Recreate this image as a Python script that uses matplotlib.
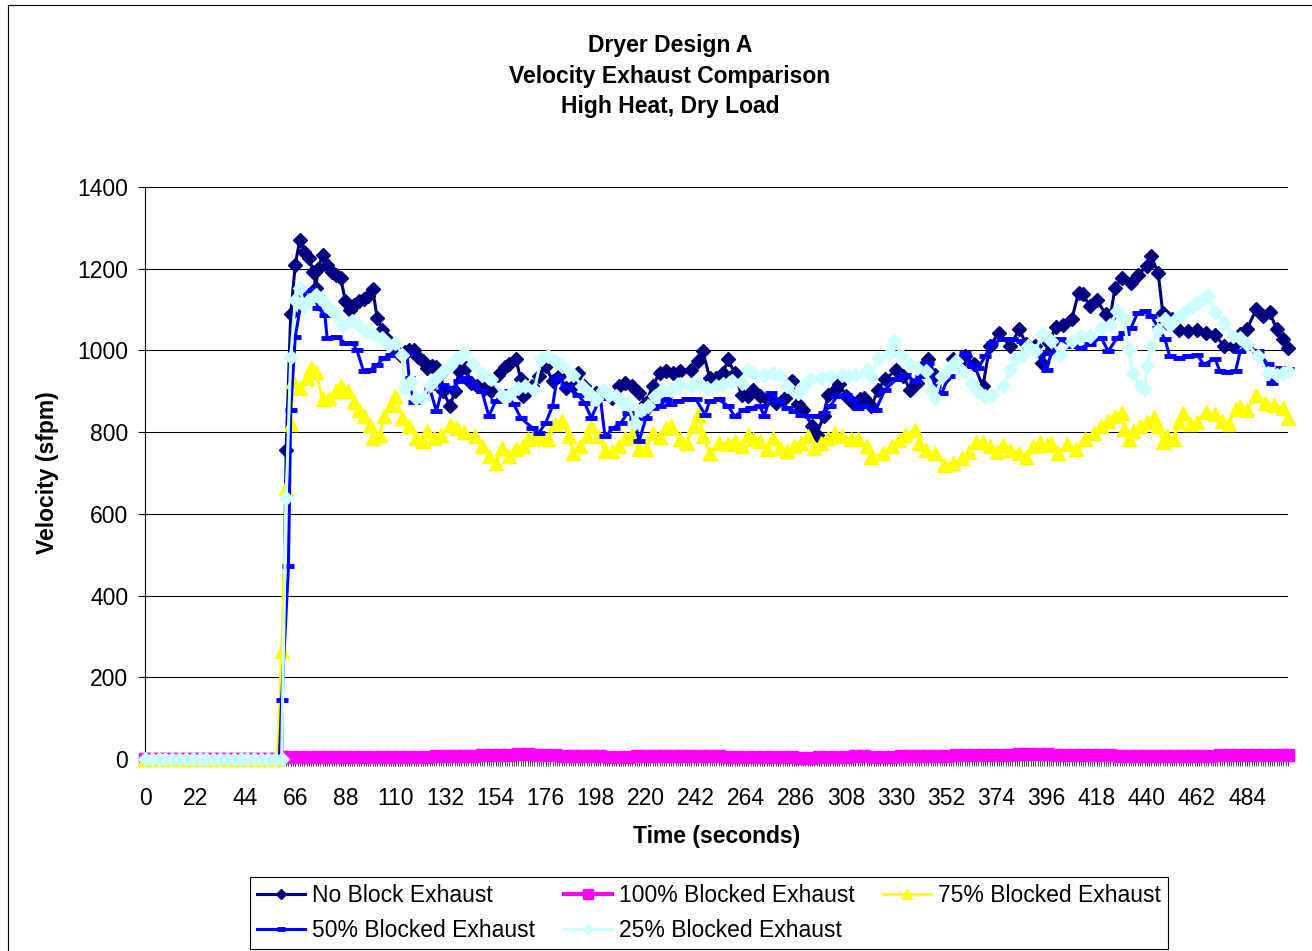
import matplotlib
matplotlib.use('Agg')
import matplotlib.pyplot as plt
from matplotlib.lines import Line2D

plt.rcParams['font.family'] = ['Liberation Sans', 'DejaVu Sans']

# ---------------- data (time in seconds, velocity in sfpm) ----------------
PRE_START = [(0, 0), (3, 0), (6, 0), (9, 0), (12, 0), (15, 0), (18, 0), (21, 0), (24, 0),
             (27, 0), (30, 0), (33, 0), (36, 0), (39, 0), (42, 0), (45, 0), (48, 0),
             (51, 0), (54, 0), (57, 0)]

NO_BLOCK = [(60, 0), (62, 757), (64, 1090), (66, 1210), (68, 1271), (70, 1240), (72, 1226),
            (74, 1193), (75, 1153), (76, 1200), (78, 1234), (80, 1210), (82, 1193), (84, 1185),
            (86, 1177), (88, 1120), (90, 1100), (92, 1112), (94, 1120), (96, 1125), (98, 1132),
            (100, 1150), (102, 1079), (104, 1050), (106, 1030), (108, 1014), (110, 1000),
            (112, 990), (114, 995), (116, 1000), (118, 1002), (120, 985), (122, 973), (124, 957),
            (126, 961), (128, 960), (130, 945), (131, 900), (134, 863), (136, 900), (138, 949),
            (141, 957), (143, 921), (146, 913), (149, 905), (152, 900), (155, 940), (158, 960),
            (160, 966), (163, 978), (165, 929), (166, 888), (168, 900), (170, 913), (173, 937),
            (176, 962), (179, 925), (182, 937), (185, 909), (188, 913), (190, 945), (193, 913),
            (198, 896), (201, 900), (205, 884), (208, 913), (211, 921), (214, 913), (217, 896),
            (220, 872), (223, 913), (226, 945), (229, 950), (232, 945), (235, 949), (240, 953),
            (243, 974), (245, 998), (248, 933), (251, 933), (254, 945), (256, 978), (259, 945),
            (262, 892), (265, 888), (267, 904), (270, 888), (273, 880), (277, 872), (281, 884),
            (284, 925), (287, 868), (289, 855), (293, 815), (295, 794), (298, 839), (300, 892),
            (303, 904), (305, 917), (308, 888), (311, 872), (314, 880), (316, 884), (319, 863),
            (322, 904), (325, 929), (330, 953), (333, 937), (336, 904), (339, 920), (341, 957),
            (344, 978), (347, 941), (352, 937), (355, 978), (358, 970), (360, 986), (364, 966),
            (368, 912), (371, 1011), (375, 1043), (380, 1011), (384, 1052), (387, 1015),
            (391, 1011), (394, 970), (397, 1019), (400, 1058), (403, 1063), (407, 1076),
            (410, 1141), (412, 1137), (415, 1108), (418, 1124), (422, 1088), (424, 1084),
            (426, 1153), (429, 1177), (433, 1165), (436, 1185), (440, 1206), (442, 1230),
            (445, 1189), (447, 1092), (448, 1067), (451, 1076), (454, 1051), (458, 1047),
            (462, 1050), (466, 1043), (470, 1037), (474, 1011), (478, 1011), (481, 1040),
            (484, 1052), (488, 1101), (491, 1084), (494, 1093), (497, 1052), (500, 1027),
            (502, 1007)]

BLOCKED_100 = [(60, 4), (64, 5), (68, 5), (72, 5), (76, 5), (80, 6), (84, 6), (88, 5), (92, 5),
               (96, 5), (100, 6), (104, 6), (108, 6), (112, 5), (116, 5), (120, 6), (124, 6),
               (128, 7), (132, 7), (136, 7), (140, 8), (144, 8), (148, 9), (152, 9), (156, 10),
               (160, 11), (164, 12), (168, 12), (172, 11), (176, 10), (180, 9), (184, 8),
               (188, 8), (192, 7), (196, 7), (200, 7), (204, 6), (208, 6), (212, 6), (216, 7),
               (220, 7), (224, 7), (228, 7), (232, 7), (236, 8), (240, 8), (244, 7), (248, 7),
               (252, 7), (256, 6), (260, 6), (264, 6), (268, 6), (272, 5), (276, 5), (280, 4),
               (284, 4), (288, 3), (292, 3), (296, 4), (300, 5), (304, 6), (308, 6), (312, 7),
               (316, 7), (320, 6), (324, 6), (328, 6), (332, 7), (336, 7), (340, 7), (344, 8),
               (348, 8), (352, 8), (356, 9), (360, 9), (364, 9), (368, 10), (372, 10), (376, 11),
               (380, 11), (384, 12), (388, 12), (392, 13), (396, 12), (400, 11), (404, 10),
               (408, 10), (412, 9), (416, 9), (420, 9), (424, 9), (428, 8), (432, 8), (436, 8),
               (440, 8), (444, 7), (448, 7), (452, 8), (456, 8), (460, 8), (464, 8), (468, 8),
               (472, 9), (476, 9), (480, 9), (484, 9), (488, 9), (492, 9), (496, 9), (500, 9),
               (502, 9)]

BLOCKED_75 = [(58, 0), (60, 264), (62, 663), (64, 820), (65, 924), (68, 908), (71, 933),
              (73, 957), (75, 947), (78, 880), (81, 884), (84, 900), (86, 912), (89, 900),
              (92, 875), (94, 855), (96, 839), (99, 818), (100, 786), (103, 794), (105, 839),
              (108, 867), (110, 888), (113, 835), (116, 814), (119, 786), (122, 778), (124, 802),
              (127, 786), (130, 794), (134, 818), (137, 810), (140, 800), (145, 790), (148, 766),
              (151, 741), (154, 725), (157, 762), (160, 741), (163, 758), (166, 766), (168, 782),
              (171, 790), (174, 786), (177, 782), (180, 819), (183, 827), (186, 790), (188, 749),
              (191, 766), (194, 790), (196, 815), (199, 790), (202, 753), (205, 753), (208, 766),
              (211, 786), (214, 794), (217, 758), (220, 758), (223, 798), (226, 788), (229, 811),
              (231, 815), (235, 782), (238, 774), (241, 815), (243, 843), (245, 790), (248, 749),
              (252, 774), (256, 770), (259, 778), (262, 766), (265, 794), (267, 782), (270, 778),
              (273, 758), (276, 786), (279, 762), (282, 753), (285, 766), (288, 774), (291, 790),
              (294, 762), (297, 774), (300, 786), (303, 798), (306, 790), (310, 782), (313, 784),
              (317, 765), (319, 740), (324, 748), (328, 765), (331, 781), (334, 793), (338, 806),
              (340, 773), (343, 757), (347, 748), (351, 720), (355, 724), (359, 736), (362, 752),
              (365, 777), (368, 777), (371, 765), (374, 752), (377, 769), (380, 757), (384, 748),
              (387, 740), (390, 765), (393, 777), (396, 769), (398, 774), (401, 750), (405, 771),
              (409, 759), (413, 783), (417, 799), (420, 815), (423, 828), (426, 840), (429, 848),
              (430, 808), (432, 783), (434, 803), (437, 815), (440, 824), (443, 836), (445, 815),
              (447, 775), (449, 791), (452, 783), (454, 824), (456, 848), (459, 820), (462, 826),
              (466, 850), (470, 845), (473, 828), (476, 821), (479, 856), (481, 862), (484, 853),
              (488, 892), (492, 871), (496, 867), (500, 859), (502, 834)]

BLOCKED_50 = [(59, 0), (60, 144), (63, 472), (64, 855), (66, 1034), (69, 1132), (72, 1149),
              (74, 1145), (76, 1104), (79, 1087), (80, 1030), (84, 1034), (88, 1018), (91, 1018),
              (93, 1002), (96, 949), (99, 953), (102, 965), (105, 982), (108, 990), (112, 994),
              (115, 994), (116, 933), (118, 875), (122, 884), (125, 908), (128, 851), (131, 916),
              (135, 908), (138, 924), (141, 933), (144, 917), (148, 900), (151, 839), (154, 876),
              (158, 900), (162, 868), (165, 835), (170, 811), (173, 798), (176, 823), (179, 864),
              (181, 933), (185, 913), (190, 892), (193, 872), (196, 835), (200, 884), (202, 790),
              (206, 811), (209, 823), (212, 847), (215, 831), (217, 778), (220, 835), (223, 860),
              (226, 865), (229, 880), (231, 868), (234, 876), (238, 880), (242, 880), (246, 843),
              (248, 876), (252, 880), (256, 864), (259, 839), (263, 855), (266, 860), (270, 864),
              (272, 839), (275, 896), (278, 876), (282, 860), (285, 851), (288, 843), (292, 839),
              (295, 839), (298, 847), (301, 864), (304, 888), (308, 892), (311, 880), (313, 860),
              (316, 863), (321, 855), (325, 904), (330, 929), (334, 941), (338, 925), (341, 937),
              (344, 970), (347, 912), (350, 896), (353, 937), (356, 974), (360, 994), (363, 961),
              (366, 957), (369, 986), (372, 1019), (377, 1027), (381, 1027), (385, 1023),
              (388, 1011), (392, 994), (396, 953), (398, 994), (402, 1027), (407, 1011),
              (411, 1007), (415, 1015), (420, 1031), (423, 998), (427, 1031), (430, 1043),
              (433, 1055), (436, 1092), (439, 1096), (442, 1084), (445, 1055), (448, 1027),
              (450, 986), (454, 982), (458, 986), (462, 990), (465, 966), (470, 980), (472, 950),
              (475, 946), (479, 950), (481, 998), (484, 1007), (489, 998), (493, 966), (495, 920),
              (499, 957), (502, 955)]

BLOCKED_25 = [(60, 0), (62, 640), (64, 985), (66, 1123), (68, 1153), (70, 1108), (72, 1124),
              (75, 1136), (78, 1120), (81, 1104), (84, 1087), (87, 1063), (91, 1071), (94, 1063),
              (97, 1047), (100, 1039), (104, 1030), (107, 1014), (110, 1018), (113, 990),
              (114, 908), (117, 924), (119, 884), (122, 884), (125, 916), (128, 933), (131, 949),
              (134, 961), (137, 981), (140, 994), (144, 966), (148, 945), (152, 929), (157, 892),
              (160, 892), (164, 909), (167, 913), (171, 904), (174, 978), (177, 986), (180, 974),
              (183, 962), (188, 941), (192, 913), (195, 896), (198, 880), (201, 904), (204, 892),
              (207, 888), (210, 872), (212, 868), (215, 823), (218, 855), (221, 864), (224, 888),
              (227, 902), (231, 904), (235, 917), (240, 913), (243, 921), (247, 909), (251, 913),
              (254, 917), (258, 925), (262, 921), (265, 953), (267, 945), (272, 941), (276, 945),
              (279, 941), (282, 913), (287, 896), (289, 913), (292, 929), (297, 933), (301, 937),
              (306, 941), (309, 937), (312, 940), (317, 953), (319, 937), (322, 982), (327, 994),
              (329, 1023), (332, 990), (336, 966), (339, 957), (343, 949), (345, 904), (347, 884),
              (350, 937), (353, 957), (356, 974), (359, 949), (363, 920), (366, 900), (369, 888),
              (372, 892), (377, 912), (380, 953), (382, 978), (385, 986), (388, 1011), (391, 998),
              (394, 1039), (398, 1023), (402, 990), (407, 1023), (411, 1035), (415, 1035),
              (420, 1055), (424, 1063), (427, 1096), (430, 1076), (432, 1002), (434, 945),
              (437, 913), (439, 905), (440, 962), (442, 1011), (445, 1051), (448, 1076),
              (450, 1063), (453, 1076), (456, 1092), (459, 1104), (462, 1116), (465, 1128),
              (467, 1134), (470, 1093), (474, 1068), (478, 1035), (481, 1030), (484, 1015),
              (489, 986), (493, 945), (497, 941), (500, 945), (502, 949)]

SERIES_NAMES = ['No Block Exhaust', '100% Blocked Exhaust', '75% Blocked Exhaust',
                '50% Blocked Exhaust', '25% Blocked Exhaust']
SERIES_DATA = [NO_BLOCK, BLOCKED_100, BLOCKED_75, BLOCKED_50, BLOCKED_25]

X_TICKS = [0, 22, 44, 66, 88, 110, 132, 154, 176, 198, 220, 242, 264, 286, 308, 330, 352,
           374, 396, 418, 440, 462, 484]
Y_TICKS = [0, 200, 400, 600, 800, 1000, 1200, 1400]
TITLE = 'Dryer Design A\nVelocity Exhaust Comparison\nHigh Heat, Dry Load'
X_LABEL = 'Time (seconds)'
Y_LABEL = 'Velocity (sfpm)'
X_MAX = 502

# ---------------- styles ----------------
STYLES = [
    dict(color='#000080', marker='D', ms=7.0, lw=2.2),
    dict(color='#FF00FF', marker='s', ms=9.0, lw=3.0),
    dict(color='#FFFF00', marker='^', ms=9.5, lw=2.0),
    dict(color='#0000FF', marker='_', ms=8.0, lw=2.2, mew=3.5),
    dict(color='#CCFFFF', marker='D', ms=7.0, lw=2.2),
]

W, H = 1312, 951
fig = plt.figure(figsize=(W / 100, H / 100), dpi=100)
fig.patch.set_facecolor('white')

L, R, T, B = 145, 1288, 187, 759
ax = fig.add_axes([L / W, 1 - B / H, (R - L) / W, (B - T) / H])

lines = []
for name, data, st in zip(SERIES_NAMES, SERIES_DATA, STYLES):
    pts = PRE_START + data
    t = [p[0] for p in pts]
    v = [p[1] for p in pts]
    ln, = ax.plot(t, v, color=st['color'], lw=st['lw'], marker=st['marker'],
                  markersize=st['ms'], markerfacecolor=st['color'],
                  markeredgecolor=st['color'], markeredgewidth=st.get('mew', 1.0),
                  label=name, clip_on=False, zorder=3)
    lines.append(ln)

ax.set_xlim(0, X_MAX)
ax.set_ylim(0, 1400)
ax.set_xticks(X_TICKS)
ax.set_xticklabels([str(x) for x in X_TICKS])
ax.set_xticks(range(0, X_MAX + 1), minor=True)
ax.set_yticks(Y_TICKS)
ax.set_yticklabels([str(y) for y in Y_TICKS])

ax.tick_params(axis='x', which='major', direction='out', length=5, width=0.6,
               labelsize=16.5, pad=15, colors='black')
ax.tick_params(axis='x', which='minor', direction='out', length=5, width=0.5, colors='black')
ax.tick_params(axis='y', which='major', direction='out', length=5, width=0.8,
               labelsize=16.5, pad=7, colors='black')

for s in ['top', 'right']:
    ax.spines[s].set_visible(False)
ax.spines['left'].set_color('black')
ax.spines['bottom'].set_color('black')
ax.spines['left'].set_linewidth(0.8)
ax.spines['bottom'].set_linewidth(0.8)

ax.yaxis.grid(True, color='black', linewidth=0.75, zorder=0)
ax.set_axisbelow(True)

ax.set_xlabel(X_LABEL, fontsize=16.5, fontweight='bold', labelpad=11)
ax.set_ylabel(Y_LABEL, fontsize=16.5, fontweight='bold', labelpad=13)

fig.text(670 / W, 1 - 76 / H, TITLE, ha='center', va='center', fontsize=16.5,
         fontweight='bold', linespacing=1.42)

# legend: column-major order so rows read like the reference
order = [0, 3, 1, 4, 2]
leg = fig.legend([lines[i] for i in order], [SERIES_NAMES[i] for i in order],
                 loc='upper left', bbox_to_anchor=(250 / W, 1 - 877 / H), ncol=3,
                 fontsize=16.5, frameon=True, fancybox=False, edgecolor='black',
                 framealpha=1, borderpad=0.3, labelspacing=0.55, handlelength=2.1,
                 handletextpad=0.3, columnspacing=1.25, borderaxespad=0, numpoints=1,
                 markerscale=0.8)
leg.get_frame().set_linewidth(0.8)

# chart area border (extends past the right/bottom of the image)
fig.add_artist(Line2D([8 / W, 8 / W], [0, 1 - 5 / H], color='black', lw=0.8))
fig.add_artist(Line2D([8 / W, 1], [1 - 5 / H, 1 - 5 / H], color='black', lw=0.8))

fig.savefig('out.png', dpi=100, facecolor='white')
